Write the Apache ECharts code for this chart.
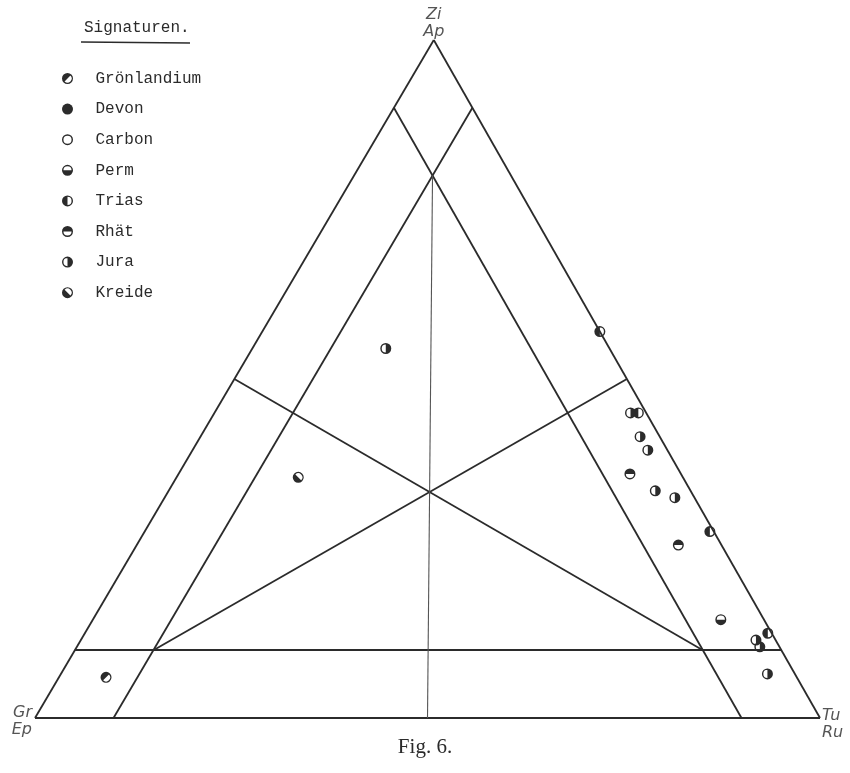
<!DOCTYPE html>
<html>
<head>
<meta charset="utf-8">
<script src="https://cdn.jsdelivr.net/npm/echarts@6/dist/echarts.min.js"></script>
<style>
  html, body { margin: 0; padding: 0; background: #fff; }
  #chart { width: 850px; height: 773px; }
</style>
</head>
<body>
<div id="chart"></div>
<script>
// Signaturen (legend) and their half-filled symbol: direction of the dark half in degrees
const signaturen = ["Grönlandium", "Devon", "Carbon", "Perm", "Trias", "Rhät", "Jura", "Kreide"];
const dunkleHaelfte = [225, "voll", "leer", 90, 180, 270, 0, 135];

// samples: Zi/Ap, Gr/Ep, Tu/Ru in percent
const probeZi = [57, 45, 45, 41.5, 39.5, 36, 33.5, 32.5, 27.5, 25.5, 14.5, 12.5, 11.5, 10.5, 6.5, 54.5, 35.5, 6];
const probeGr = [0, 2, 1, 2.5, 2.5, 6.5, 4.5, 2.5, 0.5, 5.5, 5.5, 0.5, 2.5, 2.5, 3.5, 28.5, 49, 88];
const probeTu = [43, 53, 54, 56, 58, 57.5, 62, 65, 72, 69, 80, 87, 86, 87, 90, 17, 15.5, 6];
const probeAlter = ["Trias", "Jura", "Trias", "Jura", "Jura", "Rhät", "Jura", "Jura", "Trias", "Rhät",
    "Perm", "Trias", "Jura", "Jura", "Jura", "Jura", "Kreide", "Grönlandium"];

// corner names and the 10 % boundary lines
const ecken = ["Zi\nAp", "Gr\nEp", "Tu\nRu"];
const grenze = 10;

const ink = "#2b2b2b";
const APEX = 0.508;

// ternary -> cartesian value space (x = Tu + apex * Zi, y = Zi)
const toXY = (zi, gr, tu) => [tu / 100 + APEX * zi / 100, zi / 100];

const pt = (r, a) => {
    const rad = (a * Math.PI) / 180;
    return (10 + r * Math.cos(rad)).toFixed(3) + "," + (10 + r * Math.sin(rad)).toFixed(3);
};
const R = 10, RI = 7.4;
const halfRing = (a1, a2) =>
    "M" + pt(R, a1) + " A" + R + "," + R + " 0 0,1 " + pt(R, a2) +
    " L" + pt(RI, a2) + " A" + RI + "," + RI + " 0 0,0 " + pt(RI, a1) + " Z ";
const symbolFor = (d) => {
    if (d === "voll") return "path://M0,10 A10,10 0 1,1 20,10 A10,10 0 1,1 0,10 Z";
    if (d === "leer") return "path://" + halfRing(90, 270) + halfRing(270, 450);
    const a1 = d - 90, a2 = d + 90;
    const disc = "M" + pt(R, a1) + " A10,10 0 0,1 " + pt(R, a2) + " Z ";
    return "path://" + disc + halfRing(a2, a1 + 360);
};

// frame lines
const corners = [[100, 0, 0], [0, 100, 0], [0, 0, 100]];
const g = grenze, h = 100 - grenze;
const frameLines = [
    [corners[0], corners[1]], [corners[1], corners[2]], [corners[2], corners[0]],
    [[g, h, 0], [g, 0, h]],
    [[h, g, 0], [0, g, h]],
    [[h, 0, g], [0, h, g]],
    [[50, 50, 0], [g, g, 100 - 2 * g]],
    [[50, 0, 50], [g, 100 - 2 * g, g]]
];
const medianLine = [[0, 50, 50], [100 - 2 * g, g, g]];

const scatterSeries = signaturen.map((name, i) => ({
    name: name,
    type: "scatter",
    symbol: symbolFor(dunkleHaelfte[i]),
    symbolSize: 11,
    symbolKeepAspect: true,
    itemStyle: { color: ink, borderWidth: 0, opacity: 1 },
    emphasis: { disabled: true },
    z: 5,
    data: probeAlter
        .map((a, k) => (a === name ? toXY(probeZi[k], probeGr[k], probeTu[k]) : null))
        .filter((d) => d)
}));

const cornerLabels = [
    { value: toXY(...corners[0]), label: { position: "top", distance: 0, formatter: ecken[0] } },
    { value: toXY(...corners[1]), label: { position: "left", distance: 3, align: "right", offset: [0, 3], formatter: ecken[1] } },
    { value: toXY(...corners[2]), label: { position: "right", distance: 2, align: "left", offset: [0, 6], formatter: ecken[2] } }
];

const chart = echarts.init(document.getElementById("chart"), null, { renderer: "canvas" });
chart.setOption({
    backgroundColor: "#ffffff",
    animation: false,
    title: [
        {
            text: "Signaturen.",
            left: 79,
            top: 15,
            textStyle: { fontFamily: "Liberation Mono", fontSize: 16, fontWeight: "normal", color: ink }
        },
        {
            text: "Fig. 6.",
            left: "center",
            top: 732,
            textStyle: { fontFamily: "Liberation Serif", fontSize: 21, fontWeight: "normal", color: ink }
        }
    ],
    graphic: [
        {
            type: "line",
            shape: { x1: 81, y1: 42, x2: 190, y2: 43 },
            style: { stroke: ink, lineWidth: 1.5 }
        }
    ],
    legend: {
        orient: "vertical",
        left: 57,
        top: 65,
        itemWidth: 46,
        itemHeight: 11,
        itemGap: 13.6,
        selectedMode: false,
        data: signaturen,
        textStyle: { fontFamily: "Liberation Mono", fontSize: 16, lineHeight: 17, color: ink }
    },
    grid: { left: 35, right: 30, top: 40, bottom: 55 },
    xAxis: { type: "value", min: 0, max: 1, show: false },
    yAxis: { type: "value", min: 0, max: 1, show: false },
    series: [
        {
            type: "lines",
            coordinateSystem: "cartesian2d",
            silent: true,
            z: 2,
            lineStyle: { color: ink, width: 1.8, opacity: 1 },
            data: frameLines.map((l) => ({ coords: l.map((c) => toXY(...c)) }))
        },
        {
            type: "lines",
            coordinateSystem: "cartesian2d",
            silent: true,
            z: 2,
            lineStyle: { color: "#555", width: 1.1, opacity: 1 },
            data: [{ coords: medianLine.map((c) => toXY(...c)) }]
        },
        {
            name: "Ecken",
            type: "scatter",
            symbolSize: 0,
            silent: true,
            label: {
                show: true,
                color: ink,
                fontFamily: "DejaVu Sans",
                fontStyle: "italic",
                fontSize: 16,
                lineHeight: 17
            },
            data: cornerLabels
        },
        ...scatterSeries
    ]
});
</script>
</body>
</html>
